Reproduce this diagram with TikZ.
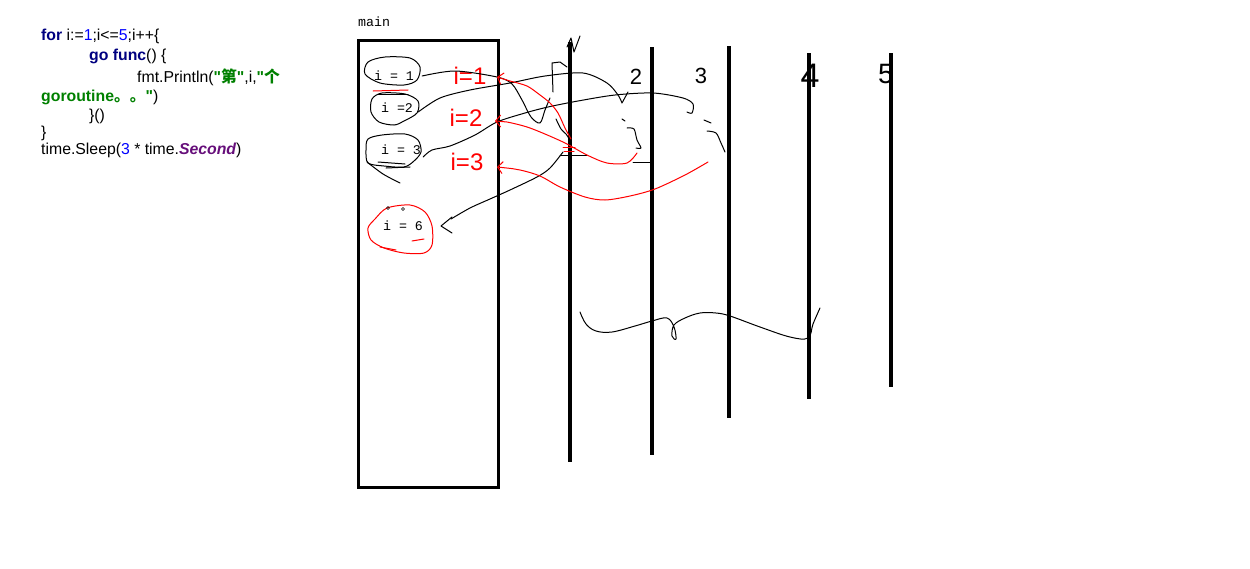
\documentclass[tikz,border=0pt]{standalone}
\usepackage{fontspec}
\setmainfont{Liberation Sans}
\newfontfamily\codefont{Liberation Sans}[Ligatures=TeXOff]
\newfontfamily\cjk{Noto Sans CJK SC}
\newfontfamily\sketchmono{Liberation Mono}
\usetikzlibrary{arrows.meta}

\definecolor{gonavy}{HTML}{000080}
\definecolor{goblue}{HTML}{0000FF}
\definecolor{gogreen}{HTML}{008000}
\definecolor{gopurple}{HTML}{660E7A}
\definecolor{inkred}{HTML}{FF0000}

\newcommand{\gokw}[1]{\textcolor{gonavy}{\bfseries #1}}
\newcommand{\gonum}[1]{\textcolor{goblue}{#1}}
\newcommand{\gostr}[1]{\textcolor{gogreen}{\bfseries #1}}

\begin{document}
\begin{tikzpicture}[x=1pt,y=-1pt,
    code/.style={anchor=west,inner sep=0pt,font=\codefont\fontsize{15.8}{18}\selectfont},
    var/.style={inner sep=0pt,font=\sketchmono\fontsize{13.3}{15}\selectfont},
    thread/.style={line width=3.2pt},
    pen/.style={line width=1pt,line cap=round,line join=round},
    redpen/.style={pen,inkred},
    hand/.style={inner sep=0pt,font=\fontsize{22}{24}\selectfont},
    redhand/.style={hand,text=inkred,font=\fontsize{24}{26}\selectfont}]
    \useasboundingbox (0,0) rectangle (1250,568);

    % the go code
    \node[code] (c1) at (41,36)  {\gokw{for} i:=\gonum{1};i<=\gonum{5};i++\{};
    \node[code] (c2) at (89,56)  {\gokw{go} \gokw{func}() \{};
    \node[code] (c3) at (137,77) {fmt.Println(\gostr{"{\cjk 第}"},i,\gostr{"{\cjk 个}}};
    \node[code] (c4) at (41,97)  {\gostr{goroutine{\cjk 。。}"})};
    \node[code] (c5) at (89,116) {\}()};
    \node[code] (c6) at (41,133) {\}};
    \node[code] (c7) at (41,150) {time.Sleep(\gonum{3} * time.\textcolor{gopurple}{\bfseries\itshape Second})};

    % main and its variable
    \node[var,anchor=west] (mainlbl) at (358,22) {main};
    \node[draw,thread,inner sep=0pt,anchor=north west,
          minimum width=140pt,minimum height=447pt] (main) at (357,39) {};
    \node[var] (i1) at (394,76)  {i = 1};
    \node[var] (i2) at (397,108) {i =2};
    \node[var] (i3) at (401,150) {i = 3};
    \node[var] (i6) at (403,226) {i = 6};

    % the goroutines
    \foreach \n/\x/\ya/\yb in {1/570/42/462, 2/652/47/455, 3/729/46/418,
                               4/809/53/399, 5/891/53/387} {
        \coordinate (top\n) at (\x,\ya);
        \coordinate (bot\n) at (\x,\yb);
        \draw[thread] (top\n) -- (bot\n);
    }
    \node[hand] (n2) at (636,77) {2};
    \node[hand] (n3) at (701,76) {3};
    \node[hand,font=\fontsize{34}{36}\selectfont] (n4) at (810,76) {4};
    \node[hand,font=\fontsize{28}{30}\selectfont] (n5) at (886,74) {5};
    \node[redhand] (r1) at (470,76)  {i=1};
    \node[redhand] (r2) at (466,118) {i=2};
    \node[redhand] (r3) at (467,162) {i=3};

    % rings round the values
    \draw[pen] plot[smooth cycle] coordinates {(368,62) (385,57) (410,58) (420,67) (417,80) (404,85) (380,83) (365,74)};
    \draw[redpen] (373,91) -- (408,90);
    \draw[pen] (378,94) -- (408,94);
    \draw[pen] plot[smooth cycle] coordinates {(372,99) (382,93) (405,94) (418,101) (417,113) (404,121) (394,125) (379,122) (371,112)};
    \draw[pen] plot[smooth cycle] coordinates {(368,139) (382,135) (405,134) (418,140) (421,152) (414,161) (404,167) (384,166) (368,163) (366,150)};
    \draw[pen] plot[smooth] coordinates {(367,162) (383,174) (400,183)};
    \draw[pen] (378,162) -- (405,164);
    \draw[pen] (386,168) -- (410,167);
    \draw[redpen] plot[smooth cycle] coordinates {(375,219) (387,208) (410,205) (425,212) (432,226) (432,245) (424,253) (404,253) (384,248) (371,240) (368,228)};
    \draw[redpen] (412,241) -- (424,239);
    \draw[redpen] (380,247) -- (396,250);
    \draw (388,208) circle (1.5);
    \draw (403,209) circle (1.5);

    % black strokes
    \draw[pen] plot[smooth] coordinates {([xshift=8pt]i1.east) (455,71) (497,77) (512,84) (522,100) (531,117) (540,123) (545,110) (550,98)};
    \draw[pen] plot[smooth] coordinates {([xshift=5pt,yshift=-4pt]i2.east) (440,98) (470,90) (510,83) (545,76) (583,73) (607,83) (618,95) (622,103)} -- (628,92);
    \draw[pen] plot[smooth] coordinates {([xshift=2pt,yshift=-7pt]i3.east) (432,150) (450,146) (475,135) (497,122) (525,113) (548,107) (578,101) (615,95) (653,93) (683,98) (693,104) (692,113) (687,112)};
    \draw[pen] plot[smooth] coordinates {(563,152) (550,168) (537,177) (510,190) (490,199) (470,208) (451,219)};
    \draw[pen] (452,217) -- (441,226) -- (452,233);

    % scribbles by the goroutines
    \draw[pen] (567,67) -- (560,62) -- (552,63) -- (553,92);
    \draw[pen] (567,47) -- (571,38) -- (574,52) -- (580,36);
    \draw[pen] plot[smooth] coordinates {(556,119) (561,129) (566,134) (570,140)};
    \draw[pen] (560,155) -- (587,155);
    \draw[redpen] (563,147) -- (575,147);
    \draw[redpen] (564,151) -- (574,151);
    \draw[pen] (622,119) -- (625,121);
    \draw[pen] plot[smooth] coordinates {(627,128) (634,129) (637,140) (641,148) (636,148)};
    \draw[pen] (633,162) -- (652,162);
    \draw[pen] (704,120) -- (711,123);
    \draw[pen] plot[smooth] coordinates {(707,131) (716,133) (721,143) (725,152)};

    % red returns into main
    \draw[redpen,{Straight Barb[length=5pt,width=12pt]}-] plot[smooth] coordinates {(497,77) (510,81) (527,86) (540,95) (550,103) (558,113) (565,128) (571,139)};
    \draw[redpen,{Straight Barb[length=5pt,width=12pt]}-] plot[smooth] coordinates {(495,121) (507,122) (530,128) (563,142) (587,155) (607,163) (627,163) (637,153)};
    \draw[redpen,{Straight Barb[length=5pt,width=12pt]}-] plot[smooth] coordinates {(497,167) (520,170) (540,176) (560,187) (585,197) (605,200) (630,196) (655,189) (685,175) (708,162)};

    % wave under the goroutines
    \draw[pen] plot[smooth,tension=0.6] coordinates {(580,312) (586,324) (596,331) (612,332) (635,326) (652,321) (667,318) (674,327) (676,339) (672,336) (674,325) (685,318) (700,313) (716,313) (730,316) (760,327) (790,337) (808,338) (813,324) (820,308)};
\end{tikzpicture}
\end{document}
